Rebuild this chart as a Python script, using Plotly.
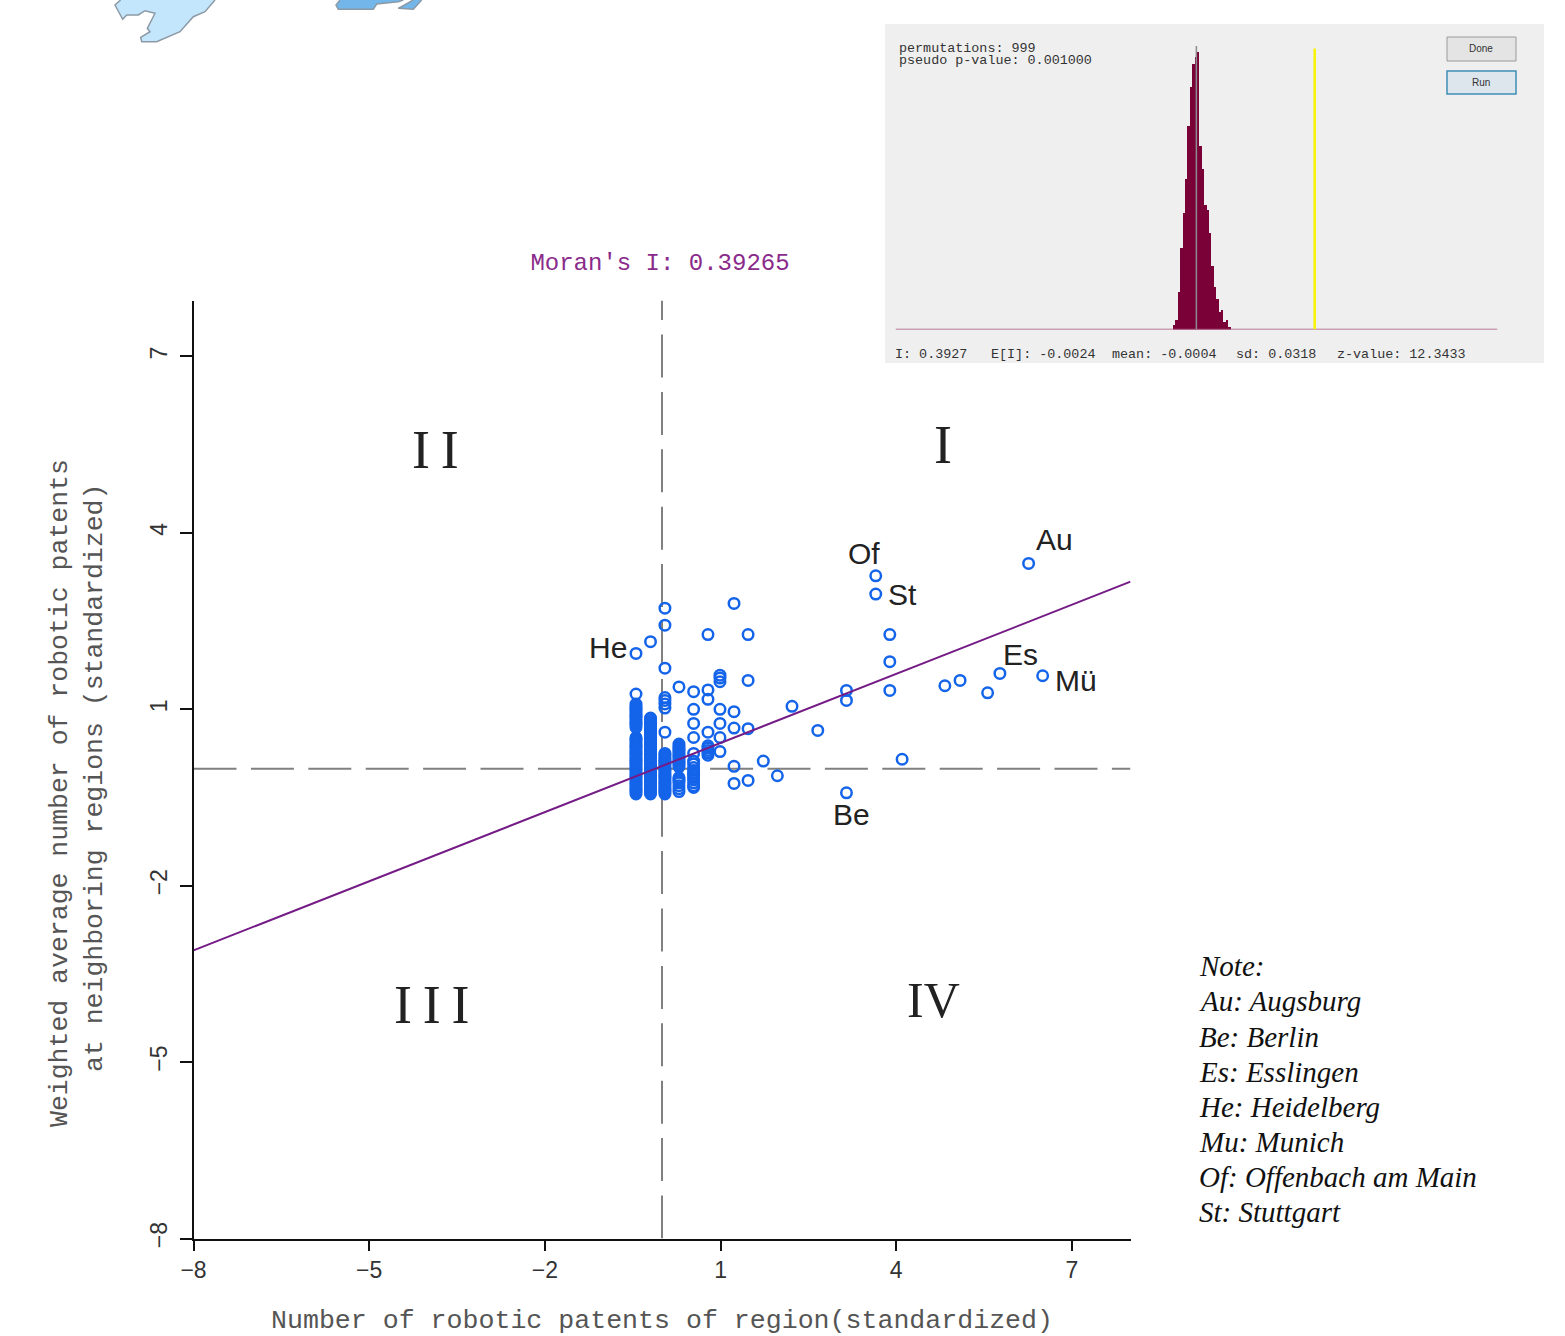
import plotly.graph_objects as go

W, H = 1565, 1336

# Moran scatter points, grouped by column of the standardized x value
col_x = [-0.444, -0.196, 0.05, 0.29, 0.54, 0.785, 0.99, 1.23, 1.47]
col_y = [
    [1.95, 1.26, 1.09, 1.06, 1.03, 1.0, 0.97, 0.94, 0.91, 0.88, 0.85, 0.82, 0.79, 0.76, 0.73, 0.69,
     0.52, 0.49, 0.46, 0.43, 0.40, 0.37, 0.34, 0.31, 0.28, 0.25, 0.22, 0.19, 0.16, 0.13, 0.10, 0.07, 0.04, 0.01,
     -0.02, -0.05, -0.08, -0.11, -0.14, -0.17, -0.20, -0.23, -0.26, -0.29, -0.32, -0.35, -0.38, -0.41, -0.44],
    [2.15, 0.85, 0.82, 0.79, 0.76, 0.73, 0.70, 0.67, 0.64, 0.61, 0.58, 0.55, 0.52, 0.49, 0.46, 0.43, 0.40, 0.37, 0.34,
     0.31, 0.28, 0.25, 0.22, 0.19, 0.16, 0.13, 0.10, 0.07, 0.04, 0.01, -0.02, -0.05, -0.08, -0.11, -0.14, -0.17, -0.20,
     -0.23, -0.26, -0.29, -0.32, -0.35, -0.38, -0.41, -0.44],
    [2.72, 2.43, 1.70, 1.20, 1.15, 1.09, 1.02, 0.61, 0.25, 0.22, 0.19, 0.16, 0.13, 0.10, 0.07, 0.04, 0.01, -0.02, -0.05,
     -0.08, -0.11, -0.14, -0.17, -0.20, -0.23, -0.26, -0.29, -0.32, -0.35, -0.38, -0.41, -0.44],
    [1.38, 0.41, 0.38, 0.35, 0.32, 0.29, 0.26, 0.23, 0.20, 0.17, 0.14, 0.11, 0.08, 0.05, 0.02,
     -0.16, -0.19, -0.22, -0.25, -0.30, -0.35, -0.40],
    [1.30, 1.0, 0.76, 0.52, 0.25, 0.12, 0.07, 0.01, -0.04, -0.08, -0.12, -0.16, -0.20, -0.25, -0.30, -0.33],
    [2.27, 1.33, 1.17, 0.61, 0.38, 0.34, 0.30, 0.26, 0.22],
    [1.58, 1.53, 1.47, 1.0, 0.76, 0.52, 0.28],
    [2.80, 0.96, 0.68, 0.03, -0.26],
    [2.27, 1.49, 0.67, -0.21],
]
other_x = [1.73, 1.97, 2.22, 2.66, 3.15, 3.15, 3.15, 3.65, 3.65, 3.89, 3.89, 3.89, 4.10, 4.83, 5.09, 5.56, 5.77, 6.50, 6.26]
other_y = [0.12, -0.13, 1.05, 0.64, 1.32, 1.15, -0.42, 3.27, 2.96, 2.27, 1.81, 1.32, 0.15, 1.40, 1.49, 1.28, 1.61, 1.57, 3.48]

fit_x = [-8, 8]
fit_y = [-3.10, 3.17]
ticks = [-8, -5, -2, 1, 4, 7]

# permutation histogram
hist_bins = [-0.076, -0.068, -0.06, -0.052, -0.044, -0.036, -0.028, -0.02, -0.012, -0.004, 0.004, 0.012,
             0.02, 0.028, 0.036, 0.044, 0.052, 0.06, 0.068, 0.076, 0.084, 0.092, 0.1, 0.108]
hist_counts = [2, 4, 15, 32, 46, 59, 80, 95, 104, 107, 109, 72, 63, 49, 47, 38, 25, 17, 12, 7, 8, 3, 4, 1]
observed_i = 0.3927
mean_i = -0.0004

# fragments of the map cropped at the top of the page
map_light_x = [120.7, 115, 122.7, 126.7, 138.3, 145, 155, 147.3, 150, 140.7, 141.7, 156.7, 180, 193.3, 205, 215]
map_light_y = [0, 5, 19.3, 15, 15, 10.7, 13.3, 28.3, 31.7, 37.3, 41.7, 41.7, 31.7, 16.7, 11.7, 0]
map_dark1_x = [340, 336, 338.3, 373.3, 376.7, 398.3, 403.3]
map_dark1_y = [0, 5, 9.3, 9.3, 4, 1.7, 0]
map_dark2_x = [413.3, 398.3, 413.3, 421.7]
map_dark2_y = [0, 8.3, 9.3, 0]

note_lines = ["Note:", "Au: Augsburg", "Be: Berlin", "Es: Esslingen", "He: Heidelberg", "Mu: Munich",
              "Of: Offenbach am Main", "St: Stuttgart"]
note_y = [966, 1001, 1037, 1072, 1107, 1142, 1177, 1212]

region_labels = ["Of", "St", "Au", "He", "Es", "Mü", "Be"]
region_px = [864, 902, 1054, 608, 1020, 1076, 851]
region_py = [553, 594, 539, 647, 654, 680, 814]

quad_labels = ["I", "I\u2009I", "I\u2009I\u2009I", "IV"]
quad_px = [943, 435, 432, 933]
quad_py = [445, 450, 1005, 1000]
quad_size = [54, 54, 54, 50]

inset_text = ["permutations: 999", "pseudo p-value: 0.001000", "I: 0.3927", "E[I]: -0.0024", "mean: -0.0004",
              "sd: 0.0318", "z-value: 12.3433"]
inset_px = [897, 897, 893, 989, 1110, 1234, 1335]
inset_py = [48, 60, 354, 354, 354, 354, 354]

MONO = "Liberation Mono"
fig = go.Figure()

for mx, my, col in [(map_light_x, map_light_y, "#c4e6fc"), (map_dark1_x, map_dark1_y, "#72b6ea"),
                    (map_dark2_x, map_dark2_y, "#72b6ea")]:
    fig.add_trace(go.Scatter(x=mx, y=my, xaxis="x3", yaxis="y3", mode="lines", fill="toself", fillcolor=col,
                             line=dict(color="#8c9aa6", width=1.5), hoverinfo="skip", showlegend=False))

# scatter
xs, ys = [], []
for cx, cy in zip(col_x, col_y):
    xs += [cx] * len(cy)
    ys += cy
xs += other_x
ys += other_y
fig.add_trace(go.Scatter(x=[0, 0], y=[-8, 7.952], mode="lines", showlegend=False,
                         line=dict(color="#808080", width=2, dash="43px,14.4px")))
fig.add_trace(go.Scatter(x=[-8, 8], y=[-0.01, -0.01], mode="lines", showlegend=False,
                         line=dict(color="#808080", width=2, dash="43px,14.4px")))
fig.add_trace(go.Scatter(x=xs, y=ys, mode="markers", showlegend=False,
                         marker=dict(symbol="circle-open", size=10.5, color="#1464ea", line=dict(width=2.5, color="#1464ea"))))
fig.add_trace(go.Scatter(x=fit_x, y=fit_y, mode="lines", showlegend=False, line=dict(color="#741b86", width=2)))

# inset
fig.add_trace(go.Bar(x=hist_bins, y=hist_counts, xaxis="x2", yaxis="y2", width=0.008, showlegend=False,
                     marker=dict(color="#7a0038", line=dict(width=0))))
fig.add_trace(go.Scatter(x=[-1, 1], y=[0, 0], xaxis="x2", yaxis="y2", mode="lines", showlegend=False,
                         line=dict(color="#a84f78", width=1.5)))
fig.add_trace(go.Scatter(x=[mean_i, mean_i], y=[0, 111], xaxis="x2", yaxis="y2", mode="lines", showlegend=False,
                         line=dict(color="#8c8c8c", width=1.5)))
fig.add_trace(go.Scatter(x=[observed_i, observed_i], y=[0, 110], xaxis="x2", yaxis="y2", mode="lines", showlegend=False,
                         line=dict(color="#f8f400", width=2.5)))

ann = []
def px_text(text, x, y, size, font, color, xanchor="center", angle=0, italic=False):
    ann.append(dict(text=text, x=x, y=y, xref="x3", yref="y3", xanchor=xanchor, yanchor="middle", showarrow=False,
                    textangle=angle, font=dict(size=size, family=font, color=color, style="italic" if italic else "normal")))

for t, x, y in zip(region_labels, region_px, region_py):
    px_text(t, x, y, 30, "Liberation Sans", "#222222")
for t, x, y, s in zip(quad_labels, quad_px, quad_py, quad_size):
    px_text(t, x, y, s, "Liberation Serif", "#222222")
for t, y in zip(note_lines, note_y):
    px_text(t, 1196.5, y, 29, "Liberation Serif", "#111111", xanchor="left", italic=True)
for t, x, y in zip(inset_text, inset_px, inset_py):
    px_text(t, x, y, 13.4, MONO, "#333333", xanchor="left")
px_text("Weighted average number of robotic patents", 60, 793, 26.5, MONO, "#555555", angle=-90)
px_text("at neighboring regions (standardized)", 95, 778, 26.5, MONO, "#555555", angle=-90)
px_text("Done", 1481, 48, 10, "Liberation Sans", "#333333")
px_text("Run", 1481, 82, 10, "Liberation Sans", "#333333")


def rect(x0, x1, y0, y1, fill, line):
    return dict(type="rect", xref="paper", yref="paper", x0=x0 / W, x1=x1 / W, y0=1 - y1 / H, y1=1 - y0 / H,
                fillcolor=fill, line=line, layer="below")


shapes = [
    rect(885, 1544, 24, 363, "#efefef", dict(width=0)),
    rect(1447, 1516, 37, 61, "#e4e4e4", dict(color="#9a9a9a", width=1)),
    rect(1447, 1516, 71, 94, "#dde6ec", dict(color="#3f8fb5", width=1.5)),
]

fig.update_layout(
    width=W, height=H, margin=dict(l=0, r=0, t=0, b=0), autosize=False,
    paper_bgcolor="white", plot_bgcolor="rgba(0,0,0,0)", bargap=0, showlegend=False,
    title=dict(text="Moran's I: 0.39265", x=660 / W, y=1 - 262 / H, xref="paper", yref="paper", xanchor="center", yanchor="middle",
               font=dict(family=MONO, size=24, color="#8a2a8a")),
    xaxis=dict(domain=[193.5 / W, 1130.5 / W], range=[-8, 8], tickvals=ticks, ticks="outside", ticklen=10, tickwidth=2,
               tickcolor="#111111", showline=True, linecolor="#111111", linewidth=2, showgrid=False, zeroline=False,
               anchor="y", tickfont=dict(family="Liberation Sans", size=23, color="#333333"),
               automargin=False, title=dict(text="Number of robotic patents of region(standardized)", standoff=34,
                                            font=dict(family=MONO, size=26.6, color="#555555"))),
    yaxis=dict(domain=[(H - 1238.5) / H, (H - 300.5) / H], range=[-8, 7.952], tickvals=ticks, ticks="outside", ticklen=12, tickwidth=2,
               tickcolor="#111111", showline=True, linecolor="#111111", linewidth=2, showgrid=False, zeroline=False,
               anchor="x", tickangle=-90, ticklabelstandoff=3,
               tickfont=dict(family="Liberation Sans", size=23, color="#333333"), automargin=False),
    xaxis2=dict(domain=[895.5 / W, 1497.5 / W], range=[-1, 1], visible=False, anchor="y2"),
    yaxis2=dict(domain=[(H - 329.5) / H, (H - 43.5) / H], range=[0, 112], visible=False, anchor="x2"),
    xaxis3=dict(domain=[0, 1], range=[0, W], visible=False, anchor="y3"),
    yaxis3=dict(domain=[0, 1], range=[H, 0], visible=False, anchor="x3"),
    annotations=ann, shapes=shapes,
)
fig.write_html("out.html", post_script="document.body.style.margin='0';", config=dict(displayModeBar=False))
